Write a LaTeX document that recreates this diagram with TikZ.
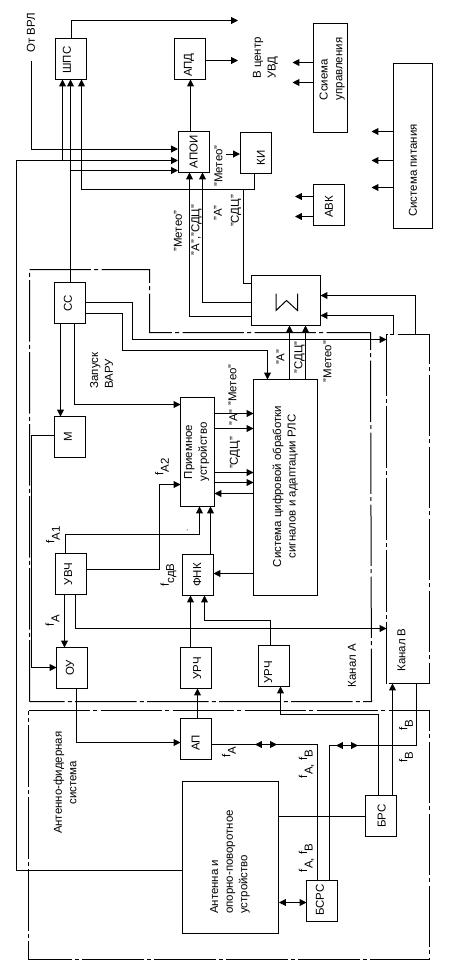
\documentclass[tikz,border=0pt]{standalone}
\usepackage{fontspec}
\setmainfont{Liberation Sans}
\usetikzlibrary{arrows.meta}
\tikzset{
 x=0.75pt,y=-0.75pt,
 every path/.style={line width=0.75pt},
 lbl/.style={rotate=90,inner sep=0pt,align=center,font=\fontsize{8.6pt}{11pt}\selectfont},
 lbll/.style={lbl,align=left},
 arr/.style={-{Triangle[length=5.2pt,width=5.2pt]}},
 dbl/.style={{Triangle[length=5.2pt,width=5.2pt]}-{Triangle[length=5.2pt,width=5.2pt]}},
 frame/.style={dash pattern=on 46pt off 2.5pt on 3pt off 2.5pt},
}
\newcommand{\bx}[8]{% name, x1,y1,x2,y2,text x,text y,text
 \path[draw] (#2,#3) rectangle (#4,#5);
 \node[lbl] (#1) at (#6,#7) {#8};
}
\newcommand{\fl}[1]{f\raisebox{-0.9ex}{#1}}
\begin{document}
\begin{tikzpicture}
\useasboundingbox (0,0) rectangle (458,972);
% boxes
\bx{shps}{55.5}{38}{86.5}{79.5}{67}{60}{ШПС}
\bx{apd}{174}{38}{205.5}{79.5}{189}{65}{АПД}
\bx{apoi}{178}{131.5}{209.5}{172.5}{193.7}{152}{АПОИ}
\bx{ki}{240}{132.5}{271.5}{173.5}{261}{158}{КИ}
\bx{shu}{313.5}{23.5}{347.5}{132.5}{332}{69}{\begin{tabular}{@{}l@{}}Ссиема\\управления\end{tabular}}
\bx{pit}{393.5}{63.5}{432.5}{228.5}{413}{170.5}{Система питания}
\bx{avk}{313.5}{184.5}{344.5}{225.5}{329}{207}{АВК}
\bx{sum}{251.5}{275.5}{320.5}{325.5}{286}{300.5}{}
\bx{ss}{54.5}{282.5}{85.5}{323.5}{68}{303}{СС}
\bx{m}{54.5}{416.5}{85.5}{457.5}{68}{437}{М}
\bx{pr}{180.5}{397.5}{214.5}{506.5}{196.7}{452}{Приемное\\устройство}
\bx{sys}{253.5}{379.5}{317.5}{595.5}{285.3}{486.5}{Система цифровой обработки\\сигналов и адаптации РЛС}
\bx{uvch}{55.5}{553.5}{86.5}{594.5}{68.3}{574}{УВЧ}
\bx{fnk}{182.5}{554.5}{213.5}{595.5}{197.3}{575}{ФНК}
\bx{ou}{56.5}{647.5}{87.5}{688.5}{70}{667.7}{ОУ}
\bx{urA}{180.5}{647.5}{211.5}{688.5}{197.3}{668}{УРЧ}
\bx{urB}{258.5}{645.5}{289.5}{686.5}{268.3}{672}{УРЧ}
\bx{ap}{180.5}{718.5}{211.5}{759.5}{195.7}{743}{АП}
\bx{ant}{182.5}{781.5}{278.5}{933.5}{230}{862}{}
\bx{brs}{365.5}{795.5}{396.5}{836.5}{381.7}{816}{БРС}
\bx{bsrs}{306.5}{880.5}{337.5}{921.5}{320}{900}{БСРС}
% sigma
\draw (276,293.5) -- (276,310.5) -- (286.5,300.5) -- (297.5,310.5) -- (297.5,293.5);
% frames
\draw[frame] (29.5,701.5) -- (29.5,269.5) -- (149.5,269.5) -- (149.5,332.5) -- (370.5,332.5) -- (371.5,701.5) -- cycle;
\draw[frame] (386.5,683.5) -- (386.5,334.5) -- (429.5,334.5) -- (429.5,683.5) -- cycle;
\draw[frame] (28.5,710.5) -- (429.5,710.5) -- (429.5,959.5) -- (28.5,959.5) -- cycle;
% top connectors
\draw[arr] (71.5,38) -- (71.5,20.5) -- (238,20.5);
\draw[arr] (31.5,61) -- (31.5,149) -- (178,149);
\draw[arr] (182.5,870.5) -- (16.5,870.5) -- (16.5,160.5) -- (178,160.5);
\draw[arr] (62.5,160.5) -- (62.5,79.5);
\draw[arr] (70.5,282.5) -- (70.5,79.5);
\draw[arr] (70.5,170.5) -- (178,170.5);
\draw[arr] (254.5,173.5) -- (254.5,189.5) -- (81.5,189.5) -- (81.5,79.5);
\draw (243.5,189.5) -- (243.5,283.5) -- (251.5,283.5);
\draw[arr] (251.5,316.5) -- (189.5,316.5) -- (189.5,172.5);
\draw[arr] (251.5,302.5) -- (202.5,302.5) -- (202.5,172.5);
\draw[arr] (226,154) -- (240,154);
\draw[arr] (190.5,131.5) -- (190.5,79.5);
\draw[arr] (205.5,60.5) -- (238,60.5);
\draw[arr] (313.5,62.5) -- (292.5,62.5);
\draw[arr] (313.5,82.5) -- (292.5,82.5);
\draw[arr] (313.5,196.5) -- (295,196.5);
\draw[arr] (313.5,216.5) -- (295,216.5);
\draw[arr] (393.5,131.5) -- (371.5,131.5);
\draw[arr] (393.5,160.5) -- (371.5,160.5);
\draw[arr] (393.5,187.5) -- (371.5,187.5);
% SS
\draw[arr] (85.5,302.5) -- (132.5,302.5) -- (132.5,339.5) -- (386.5,339.5);
\draw[arr] (85.5,313.5) -- (122.5,313.5) -- (122.5,350.5) -- (267.5,350.5) -- (267.5,379.5);
\draw[arr] (60.5,323.5) -- (60.5,416.5);
\draw[arr] (74.5,323.5) -- (74.5,404.5) -- (180.5,404.5);
\draw[arr] (54.5,435.5) -- (31.5,435.5) -- (31.5,667.5) -- (56.5,667.5);
% receiver -> system
\draw[arr] (214.5,413.5) -- (253.5,413.5);
\draw[arr] (214.5,428.5) -- (253.5,428.5);
\draw[arr] (214.5,472.5) -- (253.5,472.5);
\draw[arr] (214.5,482.5) -- (253.5,482.5);
\draw[arr] (253.5,493.5) -- (214.5,493.5);
\draw[arr] (289.5,379.5) -- (289.5,325.5);
\draw[arr] (305.5,379.5) -- (305.5,325.5);
\draw[arr] (415.5,334.5) -- (415.5,295.5) -- (320.5,295.5);
\draw[arr] (393.5,334.5) -- (393.5,315.5) -- (320.5,315.5);
% UVCh
\draw[arr] (65.5,553.5) -- (65.5,534.5) -- (199.5,534.5) -- (199.5,506.5);
\draw[arr] (86.5,569.5) -- (159.5,569.5) -- (159.5,484.5) -- (180.5,484.5);
\draw[arr] (210.5,554.5) -- (210.5,506.5);
\draw[arr] (253.5,573.5) -- (213.5,573.5);
\draw[arr] (64.5,594.5) -- (64.5,647.5);
\draw[arr] (75.5,594.5) -- (75.5,628.5) -- (386.5,628.5);
\draw[arr] (76.5,688.5) -- (76.5,742.5) -- (180.5,742.5);
\draw[arr] (190.5,647.5) -- (190.5,595.5);
\draw[arr] (197.5,718.5) -- (197.5,688.5);
\draw[arr] (270.5,645.5) -- (270.5,620.5) -- (204.5,620.5) -- (204.5,595.5);
\draw[arr] (378.5,795.5) -- (378.5,714.5) -- (280.5,714.5) -- (280.5,686.5);
\draw[arr] (392.5,795.5) -- (392.5,683.5);
% antenna feeds
\draw (211.5,744.5) -- (317.5,744.5) -- (317.5,880.5);
\draw[dbl] (255,744.5) -- (277,744.5);
\draw (416.5,683.5) -- (416.5,745.5) -- (329.5,745.5) -- (329.5,880.5);
\draw[dbl] (336,745.5) -- (358,745.5);
\draw (278.5,816.5) -- (365.5,816.5);
\draw[dbl] (279,902.5) -- (306.5,902.5);
% labels
\node[lbl] (l1) at (31,33) {От ВРЛ};
\node[lbll] (l2) at (265.5,58) {В центр\\УВД};
\node[lbl] (l3) at (218.5,166) {"Метео"};
\node[lbl] (l4) at (218,213) {"А"};
\node[lbl] (l5) at (236,211) {"СДЦ"};
\node[lbl] (l6) at (178,231) {"Метео"};
\node[lbl] (l7) at (196.5,230) {"А","СДЦ"};
\node[lbll] (l8) at (101.5,370.5) {Запуск\\ВАРУ};
\node[lbl] (l9) at (327.5,361.7) {"Метео"};
\node[lbl] (l10) at (299.5,357.3) {"СДЦ"};
\node[lbl] (l11) at (280.5,357.3) {"А"};
\node[lbl] (l12) at (233.5,417.7) {"А"};
\node[lbl] (l13) at (232.5,385) {"Метео"};
\node[lbl] (l14) at (235,453) {"СДЦ"};
\node[lbl] (l15) at (162,466.7) {\fl{А2}};
\node[lbl] (l16) at (53,535) {\fl{А1}};
\node[lbl] (l17) at (168.5,575) {\fl{сдВ}};
\node[lbl] (l18) at (52.5,620.7) {\fl{А}};
\node[lbl] (l19) at (352,665.7) {Канал А};
\node[lbl] (l20) at (401.5,650) {Канал В};
\node[lbl] (l21) at (406,725) {\fl{В}};
\node[lbl] (l22) at (406,757) {\fl{В}};
\node[lbl] (l23) at (229,752) {\fl{А}};
\node[lbl] (l24) at (306.5,764) {\fl{А,} \fl{В}};
\node[lbl] (l25) at (306.5,858) {\fl{А,} \fl{В}};
\node[lbl] (l26) at (65,782.7) {Антенно-фидерная\\система};
\node[lbll] (l27) at (230,862) {Антенна и\\опорно-поворотное\\устройство};
\node[lbl,font=\fontsize{6pt}{6pt}\selectfont] (l28) at (187.5,530) {.};
\end{tikzpicture}
\end{document}
